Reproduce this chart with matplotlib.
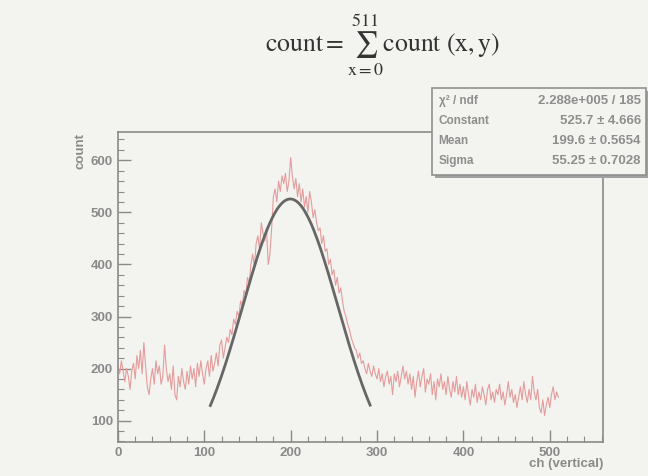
import matplotlib.pyplot as plt
import numpy as np
from matplotlib.ticker import MultipleLocator

# counts, one value every 2 channels (0 .. 510)
counts = [
    205, 190, 215, 195, 175, 200, 185, 160, 195, 210,
    180, 225, 200, 235, 190, 250, 205, 165, 150, 180,
    200, 170, 215, 190, 205, 170, 185, 245, 200, 175,
    190, 160, 205, 150, 140, 185, 165, 200, 175, 160,
    195, 170, 205, 180, 200, 165, 210, 185, 215, 190,
    170, 200, 215, 185, 225, 195, 210, 230, 205, 245,
    255, 220, 240, 260, 250, 275, 265, 295, 285, 310,
    300, 330, 320, 350, 340,
    375, 365, 400, 420, 395, 440, 455, 430, 480, 460,
    445, 470, 400, 420, 470, 530, 545, 520, 560, 540,
    570, 555, 575, 540, 560,
    605, 570, 545, 565, 530, 555, 520, 545, 510, 530,
    500, 540, 520, 490, 505, 480, 465, 470, 440, 455,
    425, 430, 400, 410, 380,
    390, 360, 375, 345, 355, 330, 310, 300, 285, 275,
    260, 250, 240, 235, 220, 230, 210, 215, 200, 190,
    210, 195, 185, 205, 190,
    180, 200, 175, 190, 165, 185, 195, 170, 185, 150,
    190, 175, 195, 165, 185, 205, 180, 195, 170, 190,
    160, 185, 145, 175, 195,
    165, 185, 200, 155, 180, 170, 190, 150, 175, 140,
    180, 165, 190, 160, 175, 150, 185, 160, 145, 175,
    155, 185, 150, 170, 145,
    165, 140, 175, 150, 130, 160, 145, 170, 135, 155,
    140, 165, 150, 130, 160, 170, 140, 155, 135, 160,
    150, 170, 140, 155, 130,
    150, 175, 145, 160, 135, 150, 125, 145, 165, 140,
    175, 150, 135, 160, 140, 185, 155, 140, 160, 125,
    115, 140, 110, 130, 145,
    125, 150, 165, 140, 155, 145,
]
ch_step = 2

# gaussian fit results (from the stats box)
fit_const = 525.7
fit_mean = 199.6
fit_sigma = 55.25
fit_range = (107, 292)

stat_labels = ["\u03c7\u00b2 / ndf", "Constant", "Mean", "Sigma"]
stat_values = ["2.288e+005 / 185", "525.7 \u00b1 4.666",
               "199.6 \u00b1 0.5654", "55.25 \u00b1 0.7028"]

paper = "#f3f3ef"
grey = "#8a8a8a"

plt.rcParams['font.family'] = ['Liberation Sans', 'DejaVu Sans']
plt.rcParams['mathtext.fontset'] = 'stix'

fig = plt.figure(figsize=(6.48, 4.76), dpi=100)
fig.patch.set_facecolor(paper)
ax = fig.add_axes([0.182, 0.0714, 0.749, 0.651])
ax.set_facecolor(paper)

ch = np.arange(len(counts)) * ch_step
ax.plot(ch, counts, color="#e49c9c", linewidth=0.8)

xf = np.linspace(fit_range[0], fit_range[1], 200)
yf = fit_const * np.exp(-0.5 * ((xf - fit_mean) / fit_sigma) ** 2)
ax.plot(xf, yf, color="#666666", linewidth=2)

ax.set_xlim(0, 562)
ax.set_ylim(59, 654)
ax.xaxis.set_major_locator(MultipleLocator(100))
ax.xaxis.set_minor_locator(MultipleLocator(20))
ax.yaxis.set_major_locator(MultipleLocator(100))
ax.yaxis.set_minor_locator(MultipleLocator(20))
ax.tick_params(which='both', direction='in', colors=grey, labelcolor=grey,
               labelsize=9.5, top=False, right=False)
ax.tick_params(which='major', length=9, width=1)
ax.tick_params(which='minor', length=4.5, width=0.8)
for lab in ax.get_xticklabels() + ax.get_yticklabels():
    lab.set_fontweight('bold')
for s in ax.spines.values():
    s.set_color(grey)
    s.set_linewidth(1.2)

ax.set_xlabel("ch (vertical)", color=grey, fontsize=9.5, fontweight='bold')
ax.xaxis.set_label_coords(1.0, -0.05)
ax.xaxis.label.set_horizontalalignment('right')

# y title sits left of the tick labels, top aligned with the frame
fig.text(81 / 648, 1 - 133 / 476, "count", rotation=90, ha='center', va='top',
         fontsize=9.5, fontweight='bold', color=grey)

# formula at the top
fig.text(0.59, 0.905,
         r"$\mathrm{count} = \sum_{\mathrm{x}=0}^{511} \mathrm{count}\ (\mathrm{x}, \mathrm{y})$",
         ha='center', va='center', fontsize=18.5, color="#333333")

# stats box
bx0, by0, bw, bh = 0.667, 0.632, 0.33, 0.183
shadow = plt.Rectangle((bx0 + 0.004, by0 - 0.006), bw, bh, transform=fig.transFigure,
                       facecolor="#a0a0a0", edgecolor='none', zorder=5)
box = plt.Rectangle((bx0, by0), bw, bh, transform=fig.transFigure,
                    facecolor=paper, edgecolor="#909090", linewidth=1.2, zorder=6)
fig.patches.extend([shadow, box])
for i, (lab, val) in enumerate(zip(stat_labels, stat_values)):
    yy = by0 + bh * (0.85 - i * 0.228)
    fig.text(bx0 + 0.01, yy, lab, ha='left', va='center', fontsize=8.5,
             fontweight='bold', color="#8e8e8e", zorder=7)
    fig.text(bx0 + bw - 0.008, yy, val, ha='right', va='center', fontsize=9.5,
             fontweight='bold', color="#8e8e8e", zorder=7)

fig.savefig("out.png", dpi=100, facecolor=paper)
